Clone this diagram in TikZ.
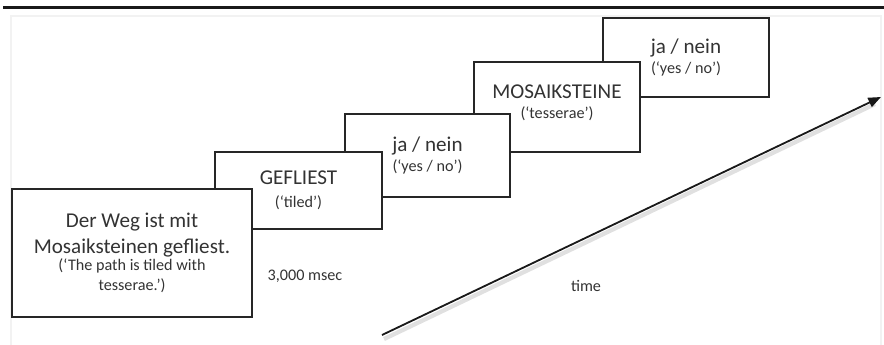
\documentclass[tikz,border=0pt]{standalone}
\usepackage{fontspec}
\setmainfont{Carlito}
\usetikzlibrary{arrows.meta}

\newcommand{\bigword}{\fontsize{15}{15}\selectfont}
\newcommand{\gloss}{\fontsize{11.5}{15}\selectfont}
\tikzset{
  slide/.style={draw=black!85, line width=1pt, fill=white, align=center, text=black!80, inner sep=0pt, font=\gloss},
  note/.style={text=black!80, font=\gloss},
}

\begin{document}
\begin{tikzpicture}[x=0.025cm, y=-0.025cm]
  \useasboundingbox (0,0) rectangle (884,344);

  % the frame
  \draw[line width=2pt, black!90] (3,7.5) -- (884,7.5);
  \draw[line width=2pt, black!5] (11,16) rectangle (881,352);

  % the slides, last one first so that the earlier ones lie on top
  \node[slide, minimum width=4.15cm, minimum height=1.975cm] (answer2) at (686,57.5)
    {\bigword ja / nein\\[-0.7pt] (‘yes / no’)};
  \node[slide, minimum width=4.15cm, minimum height=2.25cm] (noun) at (557,107)
    {\bigword MOSAIKSTEINE\\[-0.7pt] (‘tesserae’)\\[-7.2pt]};
  \node[slide, minimum width=4.125cm, minimum height=2.075cm] (answer1) at (427.5,155.5)
    {\bigword ja / nein\\[-0.8pt] (‘yes / no’)};
  \node[slide, minimum width=4.175cm, minimum height=1.925cm] (verb) at (298.5,190.5)
    {\bigword GEFLIEST\\[1.4pt] (‘tiled’)};
  \node[slide, minimum width=6cm, minimum height=3.2cm] (sentence) at (132,253)
    {\bigword Der Weg ist mit\\[3.5pt] \bigword Mosaiksteinen gefliest.\\[-2.8pt] (‘The path is tiled with\\[-0.7pt] tesserae.’)};

  % labels
  \node[note] (duration) at (305,276) {3,000 msec};
  \node[note] (timelabel) at (586,286) {time};

  % arrows
  \coordinate (A) at (382,335);
  \coordinate (B) at (881,97);
  \draw[line width=3pt, black!12] ([shift={(2,4)}]A) -- ([shift={(-6,7)}]B);
  \draw[line width=1.3pt, black!90, -{Triangle[length=9pt, width=7pt]}] (A) -- (B);

\end{tikzpicture}
\end{document}
